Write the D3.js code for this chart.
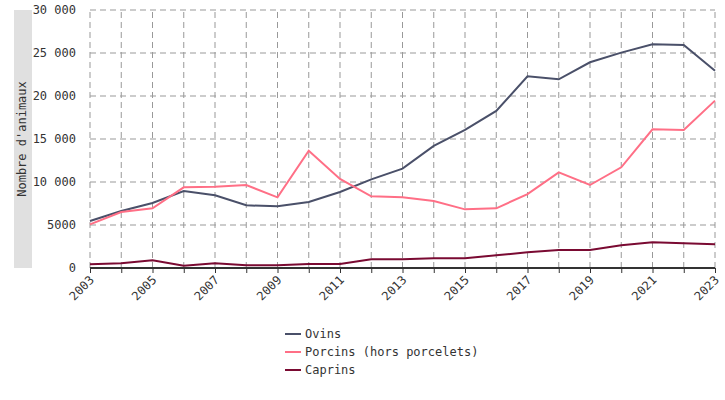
<!DOCTYPE html>
<html><head><meta charset="utf-8">
<script src="https://cdn.jsdelivr.net/npm/d3@7"></script>
<style>body{margin:0;background:#fff}svg{display:block;font-family:"DejaVu Sans Mono",monospace}</style>
</head><body><svg id="c" width="725" height="400"></svg>
<script>
const years = d3.range(2003, 2024);
const ovins = [5470,6630,7560,8950,8450,7290,7170,7670,8840,10310,11550,14190,16050,18260,22290,21940,23920,25040,26010,25930,22940];
const porcins = [5080,6510,6940,9380,9460,9650,8220,13640,10350,8330,8220,7790,6820,6940,8600,11120,9650,11710,16130,16050,19460];
const caprins = [430,550,900,270,550,310,310,470,470,1010,1010,1120,1120,1470,1820,2090,2090,2640,2990,2870,2760];
const seriesNames = ["Ovins","Porcins (hors porcelets)","Caprins"];
const seriesColors = ["#4a5069","#ff6f86","#7a0a32"];
const yTicks = [0,5000,10000,15000,20000,25000,30000];
const yLabel = "Nombre d'animaux";

const svg = d3.select("#c");
const m = {l:90, r:10, t:10, b:132};
const W = 725, H = 400;
const x = d3.scaleLinear().domain([2003,2023]).range([m.l, W-m.r]);
const y = d3.scaleLinear().domain([0,30000]).range([H-m.b, m.t]);
const fmt = v => v >= 10000 ? d3.format(",")(v).replace(/,/g," ") : String(v);

// grey band with y label
svg.append("rect").attr("x",14).attr("y",y(30000)).attr("width",18).attr("height",y(0)-y(30000)).attr("fill","#e0e0e0");
svg.append("text").attr("transform",`translate(26,${(y(0)+y(30000))/2}) rotate(-90)`)
  .attr("text-anchor","middle").attr("font-size",12).attr("fill","#333").text(yLabel);

// grid
svg.append("g").selectAll("line").data(yTicks.slice(1)).join("line")
  .attr("x1",m.l).attr("x2",W-m.r).attr("y1",d=>y(d)).attr("y2",d=>y(d))
  .attr("stroke","#999").attr("stroke-dasharray","6,4");
svg.append("g").selectAll("line").data(years).join("line")
  .attr("x1",d=>x(d)).attr("x2",d=>x(d)).attr("y1",y(0)).attr("y2",y(30000))
  .attr("stroke","#999").attr("stroke-dasharray","6,4");

// y axis labels
svg.append("g").selectAll("text").data(yTicks).join("text")
  .attr("x",76).attr("y",d=>y(d)).attr("dy","0.35em").attr("text-anchor","end")
  .attr("font-size",12).attr("fill","#333").text(fmt);

// lines
const line = d3.line().x((d,i)=>x(years[i])).y(d=>y(d));
[ovins,porcins,caprins].forEach((s,k)=>{
  svg.append("path").datum(s).attr("d",line).attr("fill","none")
    .attr("stroke",seriesColors[k]).attr("stroke-width",2);
});

// x axis
const xa = svg.append("g").attr("transform",`translate(0,${y(0)})`)
  .call(d3.axisBottom(x).tickValues(years).tickSize(5).tickFormat(d=> (d-2003)%2===0 ? String(d) : ""));
xa.select(".domain").attr("stroke","#333").attr("stroke-width",2).attr("d",`M${m.l},0H${W-m.r}`);
xa.selectAll(".tick line").attr("stroke","#333");
xa.selectAll("text").attr("font-family","DejaVu Sans Mono, monospace").attr("font-size",12).attr("fill","#333")
  .attr("text-anchor","end").attr("transform","rotate(-45)").attr("dx",0).attr("dy",0).attr("x",-6).attr("y",12);

// legend
const lg = svg.append("g").attr("transform","translate(285,334)");
seriesNames.forEach((n,i)=>{
  const g = lg.append("g").attr("transform",`translate(0,${i*18})`);
  g.append("line").attr("x1",0).attr("x2",16).attr("stroke",seriesColors[i]).attr("stroke-width",2);
  g.append("text").attr("x",20).attr("dy","0.35em").attr("font-size",12).attr("fill","#333").text(n);
});
</script></body></html>
